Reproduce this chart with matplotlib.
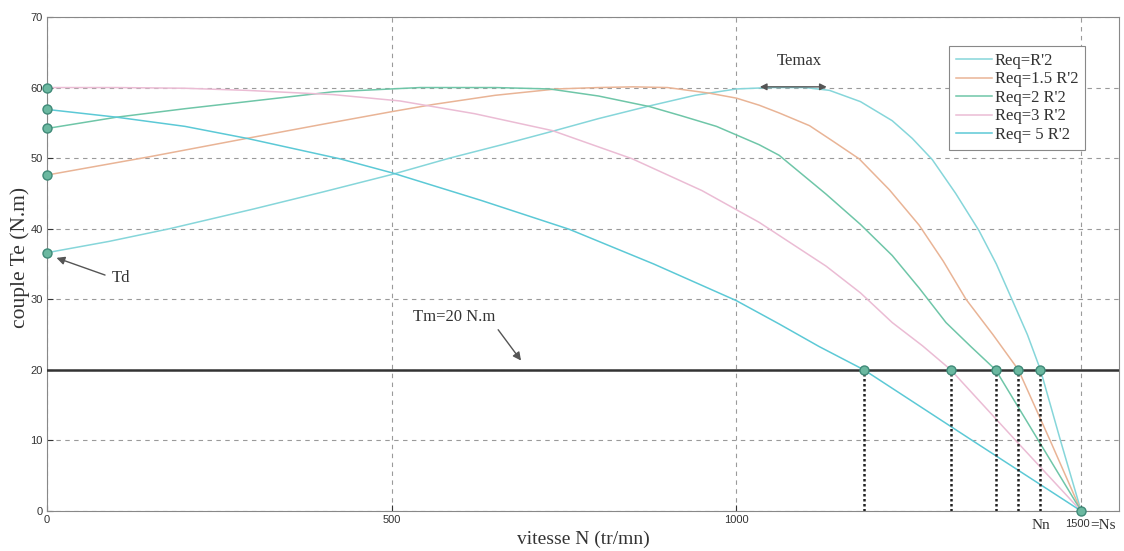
import matplotlib
matplotlib.use("Agg")
import matplotlib.pyplot as plt

# ---- data ----
labels = ["Req=R'2", "Req=1.5 R'2", "Req=2 R'2", "Req=3 R'2", "Req= 5 R'2"]

N_r1 = [0, 90, 178, 300, 400, 501, 584, 660, 733, 800, 874, 940, 1000, 1050, 1100, 1135, 1180,
        1226, 1255, 1284, 1318, 1352, 1377, 1400, 1422, 1441, 1470, 1500]
T_r1 = [36.6, 38.2, 40.0, 42.8, 45.2, 47.7, 50.0, 51.9, 53.8, 55.6, 57.4, 58.9, 59.8, 60.0, 60.0, 59.6, 58.0,
        55.3, 52.8, 49.8, 45.0, 39.7, 35.0, 29.9, 25.0, 20.0, 10.0, 0.0]

N_r15 = [0, 149, 290, 400, 501, 560, 650, 739, 800, 850, 900, 961, 1000, 1033, 1062, 1106, 1140, 1178,
         1222, 1265, 1300, 1333, 1372, 1409, 1455, 1500]
T_r15 = [47.6, 50.2, 52.8, 54.8, 56.6, 57.6, 58.9, 59.8, 60.0, 60.1, 60.0, 59.2, 58.5, 57.5, 56.4, 54.6, 52.4, 49.9,
         45.5, 40.5, 35.4, 30.0, 25.0, 20.0, 10.0, 0.0]

N_r2 = [0, 101, 200, 290, 415, 541, 650, 729, 800, 874, 920, 971, 1033, 1062, 1130, 1180, 1226,
        1265, 1304, 1340, 1376, 1438, 1500]
T_r2 = [54.2, 55.8, 57.0, 58.0, 59.4, 60.0, 60.0, 59.8, 58.8, 57.3, 56.0, 54.5, 51.9, 50.4, 44.9, 40.6, 36.2,
        31.6, 26.7, 23.3, 20.0, 10.0, 0.0]

N_r3 = [0, 100, 200, 290, 415, 512, 620, 733, 849, 950, 1033, 1130, 1180, 1226, 1270, 1311, 1405, 1500]
T_r3 = [60.0, 60.0, 59.9, 59.6, 59.0, 58.1, 56.3, 53.9, 49.9, 45.4, 40.9, 34.7, 30.9, 26.7, 23.4, 20.0, 10.0, 0.0]

N_r5 = [0, 101, 200, 290, 425, 501, 630, 758, 880, 1000, 1062, 1120, 1185, 1342, 1500]
T_r5 = [56.9, 55.8, 54.5, 52.8, 49.9, 47.9, 44.0, 39.9, 35.0, 29.8, 26.5, 23.3, 20.0, 10.0, 0.0]

start_T = [36.6, 47.6, 54.2, 60.0, 56.9]
N_op = [1441, 1409, 1376, 1311, 1185]
T_load = 20
N_sync = 1500

series = [(N_r1, T_r1), (N_r15, T_r15), (N_r2, T_r2), (N_r3, T_r3), (N_r5, T_r5)]
colors = ["#86d6da", "#e9b496", "#6fc6a8", "#ebbcd4", "#5cc9d6"]

serif = ["Liberation Serif", "DejaVu Serif"]
sans = ["Liberation Sans", "DejaVu Sans"]

fig = plt.figure(figsize=(11.24, 5.51), dpi=100)
ax = fig.add_axes([0.0418, 0.0726, 0.9538, 0.8966])

# grid
ax.set_axisbelow(True)
ax.grid(True, color="#9a9a9a", linestyle=(0, (4, 4)), linewidth=0.8)

for (n, t), c, lab in zip(series, colors, labels):
    ax.plot(n, t, color=c, linewidth=1.1, label=lab)

# load torque line
ax.axhline(T_load, color="#333333", linewidth=1.8, zorder=3)

# dotted verticals
for n in N_op:
    ax.plot([n, n], [0, T_load], color="#222222", linestyle=(0, (1, 1)), linewidth=1.8, zorder=3)

mk = dict(marker="o", markersize=6.5, markerfacecolor="#6bb8a0", markeredgecolor="#3f8a78",
          linestyle="none", zorder=5)
ax.plot([0] * len(start_T), start_T, **mk, clip_on=False)
ax.plot(N_op, [T_load] * len(N_op), **mk)
ax.plot([N_sync], [0], **mk, clip_on=False)

ax.set_xlim(0, 1555)
ax.set_ylim(0, 70)
ax.set_xticks([0, 500, 1000, 1500])
ax.set_xticklabels(["0", "500", "1000", ""])
ax.set_yticks(range(0, 71, 10))
ax.tick_params(direction="in", length=4, labelsize=8, colors="#333333", pad=3)
for lbl in ax.get_xticklabels() + ax.get_yticklabels():
    lbl.set_family(sans)
for s in ax.spines.values():
    s.set_color("#888888")
    s.set_linewidth(0.8)

ax.text(1441, -1.2, "Nn", ha="center", va="top", fontsize=11, family=serif, color="#333333")
ax.text(1513, -1.2, "1500", ha="right", va="top", fontsize=8, family=sans, color="#333333")
ax.text(1513, -1.2, "=Ns", ha="left", va="top", fontsize=11, family=serif, color="#333333")

ax.set_xlabel("vitesse N (tr/mn)", fontsize=14, family=serif, color="#333333", labelpad=4)
ax.set_ylabel("couple Te (N.m)", fontsize=15.5, family=serif, color="#333333")
ax.yaxis.set_label_coords(-0.016, 0.514)

# annotations
ax.text(1091, 63.8, "Temax", ha="center", va="center", fontsize=12, family=serif, color="#333333")
ax.annotate("", xy=(1030, 60.1), xytext=(1135, 60.1),
            arrowprops=dict(arrowstyle="<|-|>", color="#555555", lw=1.0, mutation_scale=10))
ax.text(108, 33.0, "Td", ha="center", va="center", fontsize=12, family=serif, color="#333333")
ax.annotate("", xy=(10, 36.0), xytext=(88, 33.3),
            arrowprops=dict(arrowstyle="-|>", color="#555555", lw=1.0, mutation_scale=12))
ax.text(590, 27.5, "Tm=20 N.m", ha="center", va="center", fontsize=12, family=serif, color="#333333")
ax.annotate("", xy=(690, 21.0), xytext=(652, 26.0),
            arrowprops=dict(arrowstyle="-|>", color="#555555", lw=1.0, mutation_scale=12))

leg = ax.legend(loc="upper right", bbox_to_anchor=(0.976, 0.9575), prop={"family": serif, "size": 12},
                frameon=True, fancybox=False, framealpha=1, edgecolor="#888888",
                handlelength=2.2, handletextpad=0.15, labelspacing=0.15, borderpad=0.4)
leg.get_frame().set_linewidth(0.8)
for t in leg.get_texts():
    t.set_color("#333333")

fig.savefig("out.png", dpi=100)
